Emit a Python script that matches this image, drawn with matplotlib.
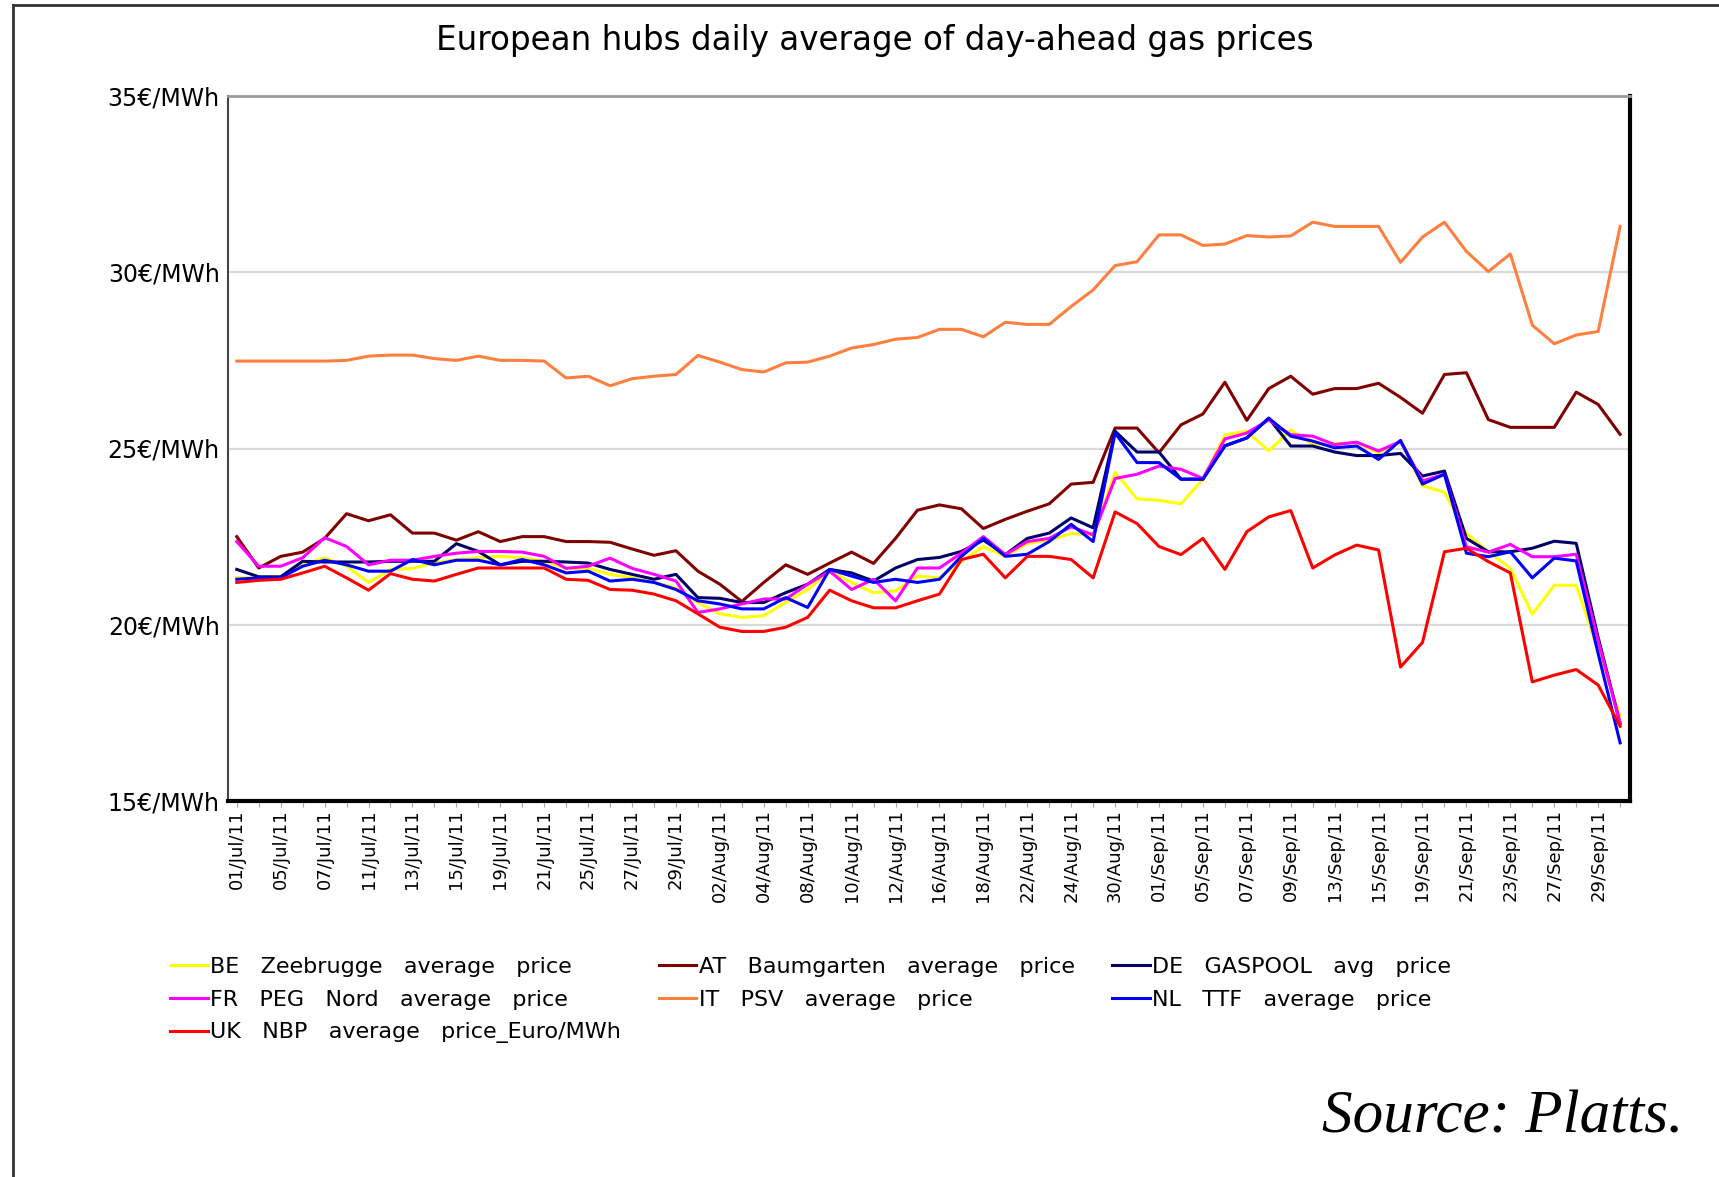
import matplotlib
matplotlib.use('Agg')
import matplotlib.pyplot as plt
from matplotlib.lines import Line2D
import pandas as pd

# trading days shown on the chart (26 and 29 Aug have no value)
days = pd.bdate_range('2011-07-01', '2011-09-30')
days = days[~days.isin(pd.to_datetime(['2011-08-26', '2011-08-29']))]
day_labels = [d.strftime('%d/%b/%y') for d in days]

be_zee = [21.33, 21.33, 21.35, 21.7, 21.9, 21.66, 21.2, 21.57, 21.6, 21.75, 21.85, 21.9, 21.94, 21.9, 21.8, 21.6,
          21.6, 21.43, 21.33, 21.2, 21.05, 20.63, 20.31, 20.21, 20.26, 20.63, 21.0, 21.52, 21.2, 20.91, 20.96, 21.38,
          21.33, 21.8, 22.22, 21.94, 22.31, 22.4, 22.59, 22.55, 24.32, 23.57, 23.53, 23.43, 24.13, 25.39, 25.49, 24.93,
          25.53, 25.11, 25.14, 25.16, 24.88, 25.2, 23.94, 23.76, 22.59, 22.07, 21.6, 20.3, 21.12, 21.12, 19.27, 17.4]
at_baum = [22.5, 21.61, 21.94, 22.06, 22.45, 23.15, 22.95, 23.12, 22.6, 22.6, 22.4, 22.64, 22.36, 22.5, 22.5, 22.36,
           22.36, 22.34, 22.15, 21.97, 22.1, 21.52, 21.15, 20.66, 21.2, 21.7, 21.43, 21.75, 22.06, 21.74, 22.45, 23.25,
           23.4, 23.29, 22.73, 22.99, 23.22, 23.43, 23.99, 24.04, 25.58, 25.58, 24.88, 25.67, 25.98, 26.88, 25.8, 26.7,
           27.05, 26.54, 26.7, 26.7, 26.85, 26.45, 26.0, 27.1, 27.15, 25.82, 25.6, 25.6, 25.6, 26.6, 26.25, 25.4]
de_gaspool = [21.57, 21.36, 21.36, 21.8, 21.78, 21.78, 21.78, 21.8, 21.8, 21.8, 22.3, 22.08, 21.7, 21.8, 21.8, 21.78,
              21.75, 21.57, 21.43, 21.29, 21.43, 20.77, 20.75, 20.63, 20.63, 20.91, 21.15, 21.57, 21.47, 21.24, 21.61, 21.85,
              21.91, 22.08, 22.4, 21.99, 22.45, 22.6, 23.03, 22.75, 25.49, 24.9, 24.9, 24.13, 24.13, 25.08, 25.3, 25.86,
              25.07, 25.07, 24.9, 24.8, 24.8, 24.86, 24.22, 24.36, 22.45, 22.07, 22.07, 22.17, 22.37, 22.31, 19.64, 17.2]
fr_peg = [22.36, 21.66, 21.66, 21.9, 22.47, 22.22, 21.7, 21.83, 21.83, 21.94, 22.03, 22.08, 22.08, 22.06, 21.94, 21.6,
          21.66, 21.89, 21.6, 21.43, 21.24, 20.35, 20.45, 20.59, 20.73, 20.73, 21.15, 21.52, 21.0, 21.29, 20.68, 21.61,
          21.61, 22.03, 22.5, 21.99, 22.36, 22.45, 22.78, 22.55, 24.15, 24.27, 24.5, 24.41, 24.15, 25.27, 25.44, 25.81,
          25.39, 25.35, 25.11, 25.18, 24.93, 25.2, 24.08, 24.27, 22.21, 22.06, 22.28, 21.93, 21.93, 22.0, 19.55, 17.2]
it_psv = [27.48, 27.48, 27.48, 27.48, 27.48, 27.5, 27.62, 27.65, 27.65, 27.55, 27.5, 27.62, 27.5, 27.5, 27.48, 27.0,
          27.05, 26.78, 26.98, 27.05, 27.1, 27.64, 27.45, 27.24, 27.17, 27.43, 27.45, 27.62, 27.85, 27.95, 28.1, 28.15,
          28.38, 28.38, 28.17, 28.58, 28.52, 28.52, 29.03, 29.5, 30.19, 30.3, 31.06, 31.06, 30.76, 30.8, 31.04, 31.0,
          31.03, 31.42, 31.3, 31.3, 31.3, 30.28, 31.0, 31.42, 30.59, 30.02, 30.52, 28.5, 27.97, 28.22, 28.32, 31.3]
nl_ttf = [21.29, 21.33, 21.33, 21.66, 21.83, 21.7, 21.52, 21.52, 21.85, 21.7, 21.83, 21.83, 21.7, 21.85, 21.7, 21.47,
          21.52, 21.24, 21.29, 21.2, 21.0, 20.68, 20.59, 20.45, 20.45, 20.77, 20.49, 21.57, 21.38, 21.2, 21.29, 21.2,
          21.29, 21.94, 22.45, 21.94, 22.0, 22.36, 22.85, 22.36, 25.44, 24.6, 24.6, 24.13, 24.13, 25.07, 25.3, 25.86,
          25.35, 25.21, 25.02, 25.07, 24.69, 25.23, 23.99, 24.27, 22.03, 21.93, 22.07, 21.33, 21.89, 21.81, 19.18, 16.65]
uk_nbp = [21.2, 21.26, 21.29, 21.47, 21.66, 21.33, 20.98, 21.45, 21.29, 21.24, 21.43, 21.61, 21.61, 21.61, 21.61, 21.29,
          21.26, 21.0, 20.98, 20.87, 20.68, 20.31, 19.93, 19.81, 19.81, 19.93, 20.21, 20.98, 20.68, 20.48, 20.48, 20.68,
          20.87, 21.85, 22.0, 21.33, 21.94, 21.94, 21.85, 21.33, 23.2, 22.87, 22.22, 21.99, 22.45, 21.57, 22.64, 23.06,
          23.24, 21.61, 21.98, 22.26, 22.12, 18.8, 19.5, 22.07, 22.17, 21.79, 21.47, 18.38, 18.57, 18.73, 18.29, 17.12]

series = [
    ('BE Zeebrugge average price', be_zee, '#ffff00'),
    ('AT Baumgarten average price', at_baum, '#800000'),
    ('DE GASPOOL avg price', de_gaspool, '#000066'),
    ('FR PEG Nord average price', fr_peg, '#ff00ff'),
    ('IT PSV average price', it_psv, '#ff7f3f'),
    ('NL TTF average price', nl_ttf, '#0000ff'),
    ('UK NBP average price_Euro/MWh', uk_nbp, '#ff0000'),
]
y_ticks = [15, 20, 25, 30, 35]

plt.rcParams['font.family'] = ['DejaVu Sans']

fig = plt.figure(figsize=(17.19, 11.77), dpi=100)
ax = fig.add_axes([228 / 1719, 1 - 801 / 1177, (1630 - 228) / 1719, (801 - 96) / 1177])

x = list(range(len(day_labels)))
lines = {}
for name, vals, col in series:
    lines[name], = ax.plot(x, vals, color=col, lw=2.2, label=name)

ax.set_xlim(-0.4, len(x) - 1 + 0.45)
ax.set_ylim(15, 35)
ax.set_yticks(y_ticks)
ax.set_yticklabels(['%d€/MWh' % v for v in y_ticks], fontsize=17)
ax.set_xticks(x)
ax.set_xticklabels([lab if i % 2 == 0 else '' for i, lab in enumerate(day_labels)],
                   rotation=90, fontsize=13)
ax.tick_params(axis='y', length=0, pad=6)
ax.tick_params(axis='x', length=4, color='#aaaaaa', pad=2)
for v in y_ticks[1:-1]:
    ax.axhline(v, color='#d9d9d9', lw=1.6, zorder=0)

ax.spines['top'].set_color('#999999')
ax.spines['top'].set_linewidth(2)
ax.spines['left'].set_color('#444444')
ax.spines['left'].set_linewidth(1.5)
ax.spines['right'].set_color('black')
ax.spines['right'].set_linewidth(3)
ax.spines['bottom'].set_color('black')
ax.spines['bottom'].set_linewidth(3)

fig.text(0.509, 0.966, 'European hubs daily average of day-ahead gas prices',
         ha='center', va='center', fontsize=23.5)

# legend row-major: 3 columns (wide word gaps as in the source)
order = ['BE Zeebrugge average price', 'FR PEG Nord average price', 'UK NBP average price_Euro/MWh',
         'AT Baumgarten average price', 'IT PSV average price',
         'DE GASPOOL avg price', 'NL TTF average price']
fig.legend([lines[n] for n in order], [n.replace(' ', '   ') for n in order], loc='upper left',
           bbox_to_anchor=(170 / 1719, 1 - 957 / 1177), ncol=3, frameon=False,
           fontsize=16, handlelength=1.7, handletextpad=0.1, columnspacing=1.7,
           labelspacing=0.57, borderpad=0, borderaxespad=0)

fig.text(0.979, 1 - 1118 / 1177, 'Source: Platts.', ha='right', va='center',
         fontsize=44, family='Liberation Serif', style='italic')

# page border
fig.add_artist(Line2D([13 / 1719, 1], [1 - 5 / 1177, 1 - 5 / 1177], transform=fig.transFigure,
                      color='#333333', lw=2))
fig.add_artist(Line2D([13 / 1719, 13 / 1719], [0, 1 - 5 / 1177], transform=fig.transFigure,
                      color='#333333', lw=2))

fig.savefig('out.png', dpi=100)
